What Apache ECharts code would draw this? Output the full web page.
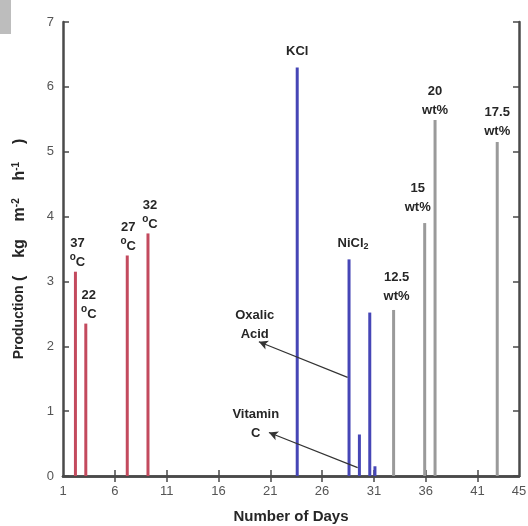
<!DOCTYPE html>
<html><head><meta charset="utf-8">
<script src="https://cdn.jsdelivr.net/npm/echarts@6/dist/echarts.min.js"></script>
<style>html,body{margin:0;padding:0;background:#fff}#c{width:528px;height:526px}</style>
</head><body><div id="c"></div>
<script>
// Temperature series (red)
const tempDays = [2.2, 3.2, 7.2, 9.2];
const tempValues = [3.15, 2.35, 3.4, 3.74];
const tempLabels = ['37', '22', '27', '32'];
// Additive series (blue)
const additiveDays = [23.6, 28.6, 29.6, 30.6, 31.1];
const additiveValues = [6.3, 3.34, 0.64, 2.52, 0.15];
const additiveLabels = ['KCl', 'NiCl2', '', '', ''];
// Concentration series (gray)
const concDays = [32.9, 35.9, 36.9, 42.9];
const concValues = [2.56, 3.9, 5.49, 5.15];
const concLabels = ['12.5', '15', '20', '17.5'];
// Axis ticks
const xTickLabels = [1, 6, 11, 16, 21, 26, 31, 36, 41, 45];
const xInnerTicks = [6, 11, 16, 21, 26, 31, 36, 41];
const yTickLabels = [0, 1, 2, 3, 4, 5, 6, 7];
// Annotations
const noteTexts = ['Oxalic\nAcid', 'Vitamin\nC'];
const notePositions = [[19.5, 2.33], [19.6, 0.8]];
const arrowFrom = [[28.46, 1.52], [29.43, 0.13]];
const arrowTo = [[19.9, 2.07], [20.87, 0.67]];

const FONT = '"Liberation Sans", Arial, sans-serif';
const INK = '#262626';
const textRich = {
  n: { fontFamily: FONT, fontWeight: 'bold', fontSize: 13, color: INK, lineHeight: 19 },
  s: { fontFamily: FONT, fontWeight: 'bold', fontSize: 10, color: INK, lineHeight: 19, verticalAlign: 'top', padding: [0, 0, 5, 0] },
  b: { fontFamily: FONT, fontWeight: 'bold', fontSize: 9, color: INK, lineHeight: 19, padding: [6, 0, 0, 0] }
};

// per-label placement tweaks [dx, distance]
const tempOffsets = [[2, 0], [3, 0], [1, 0], [2, 0]];
const additiveOffsets = [[0, 6], [4, 6], [0, 0], [0, 0], [0, 0]];
const concOffsets = [[3, 4], [-7, 6], [0, 0], [0, 1]];

function tempItem(i) {
  return {
    value: [tempDays[i], tempValues[i]],
    label: { show: true, position: 'top', distance: tempOffsets[i][1], offset: [tempOffsets[i][0], 0],
      formatter: '{n|' + tempLabels[i] + '}\n{s|o}{n|C}', rich: textRich }
  };
}
function additiveItem(i) {
  const t = additiveLabels[i];
  let f = '';
  if (t === 'NiCl2') f = '{n|NiCl}{b|2}';
  else if (t) f = '{n|' + t + '}';
  return {
    value: [additiveDays[i], additiveValues[i]],
    label: { show: !!t, position: 'top', distance: additiveOffsets[i][1], offset: [additiveOffsets[i][0], 0],
      formatter: f, rich: textRich }
  };
}
function concItem(i) {
  return {
    value: [concDays[i], concValues[i]],
    label: { show: true, position: 'top', distance: concOffsets[i][1], offset: [concOffsets[i][0], 0],
      formatter: '{n|' + concLabels[i] + '}\n{n|wt%}', rich: textRich }
  };
}

const axisColor = '#4a4a4a';
const chart = echarts.init(document.getElementById('c'), null, { renderer: 'canvas' });
chart.setOption({
  animation: false,
  backgroundColor: '#fff',
  grid: { left: 63, right: 9, top: 22, bottom: 50, containLabel: false, outerBoundsMode: 'none' },
  graphic: [
    { type: 'rect', shape: { x: 0, y: 0, width: 11, height: 34 }, style: { fill: '#bdbdbd' } }
  ],
  xAxis: [{
    type: 'value', min: 1, max: 45, position: 'bottom',
    name: 'Number of Days', nameLocation: 'middle', nameGap: 33,
    nameTextStyle: { fontFamily: FONT, fontWeight: 'bold', fontSize: 15, color: INK },
    axisLine: { show: true, lineStyle: { color: axisColor, width: 2.5 } },
    axisTick: { show: true, inside: true, length: 6, customValues: xInnerTicks, lineStyle: { color: axisColor, width: 1.5 } },
    axisLabel: { customValues: xTickLabels, margin: 9, fontFamily: FONT, fontSize: 13, color: '#555' },
    splitLine: { show: false }
  }, {
    type: 'value', min: 1, max: 45, position: 'top',
    axisLine: { show: true, lineStyle: { color: axisColor, width: 2.5 } },
    axisTick: { show: true, inside: true, length: 6, customValues: xInnerTicks, lineStyle: { color: axisColor, width: 1.5 } },
    axisLabel: { show: false },
    splitLine: { show: false }
  }],
  yAxis: [{
    type: 'value', min: 0, max: 7, interval: 1, position: 'left',
    name: '{t|Production}{p| (    kg    m}{s|-2}{p|    h}{s|-1}{p|    )}', nameLocation: 'middle', nameGap: 35, nameRotate: 90,
    nameTextStyle: { fontFamily: FONT, fontWeight: 'bold', fontSize: 14, color: INK,
      rich: {
        t: { fontFamily: FONT, fontWeight: 'bold', fontSize: 14, color: INK },
        p: { fontFamily: FONT, fontWeight: 'bold', fontSize: 16, color: INK },
        s: { fontFamily: FONT, fontWeight: 'bold', fontSize: 10, color: INK, verticalAlign: 'top', padding: [0, 0, 7, 0] }
      } },
    axisLine: { show: true, lineStyle: { color: axisColor, width: 2.5 } },
    axisTick: { show: true, inside: true, length: 6, lineStyle: { color: axisColor, width: 1.5 } },
    axisLabel: { margin: 9, fontFamily: FONT, fontSize: 13, color: '#555',
      customValues: yTickLabels },
    splitLine: { show: false }
  }, {
    type: 'value', min: 0, max: 7, interval: 1, position: 'right',
    axisLine: { show: true, lineStyle: { color: axisColor, width: 2.5 } },
    axisTick: { show: true, inside: true, length: 6, lineStyle: { color: axisColor, width: 1.5 } },
    axisLabel: { show: false },
    splitLine: { show: false }
  }],
  series: [{
    type: 'bar', name: 'Temperature', barWidth: 3, barGap: '-100%',
    itemStyle: { color: '#c34a5e' },
    data: tempDays.map((d, i) => tempItem(i))
  }, {
    type: 'bar', name: 'Additive', barWidth: 3, barGap: '-100%',
    itemStyle: { color: '#4646b6' },
    data: additiveDays.map((d, i) => additiveItem(i))
  }, {
    type: 'bar', name: 'Concentration', barWidth: 3, barGap: '-100%',
    itemStyle: { color: '#9a9a9a' },
    data: concDays.map((d, i) => concItem(i))
  }, {
    type: 'scatter', name: 'Notes', symbolSize: 1, silent: true,
    itemStyle: { opacity: 0 },
    label: { show: true, position: 'inside', formatter: p => p.data.txt, opacity: 1,
      fontFamily: FONT, fontWeight: 'bold', fontSize: 13, color: INK, lineHeight: 19, align: 'center' },
    data: notePositions.map((p, i) => ({ value: p, txt: noteTexts[i] })),
    markLine: {
      silent: true, symbol: ['none', 'arrow'], symbolSize: [7, 9],
      label: { show: false },
      lineStyle: { color: '#333', width: 1.2, type: 'solid', opacity: 1 },
      data: arrowFrom.map((f, i) => [{ coord: f }, { coord: arrowTo[i] }])
    }
  }]
});
</script>
</body></html>
